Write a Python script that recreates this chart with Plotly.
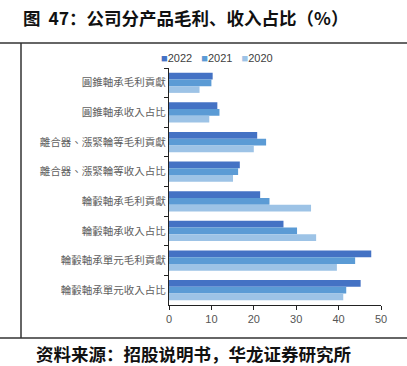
import plotly.graph_objects as go

categories = [
    "圓錐軸承毛利貢獻",
    "圓錐軸承收入占比",
    "離合器、漲緊輪等毛利貢獻",
    "離合器、漲緊輪等收入占比",
    "輪轂軸承毛利貢獻",
    "輪轂軸承收入占比",
    "輪轂軸承單元毛利貢獻",
    "輪轂軸承單元收入占比",
]
years = ["2022", "2021", "2020"]
v2022 = [10.3, 11.4, 20.8, 16.7, 21.5, 27.0, 47.7, 45.2]
v2021 = [10.0, 11.9, 22.9, 16.3, 23.7, 30.2, 43.9, 41.8]
v2020 = [7.2, 9.5, 20.0, 15.1, 33.5, 34.7, 39.6, 41.1]
x_ticks = [0, 10, 20, 30, 40, 50]

colors = ["#4472C4", "#5B9BD5", "#9DC3E6"]
series = [v2022, v2021, v2020]

W, H = 407, 366
L, R, T, B = 169, 26, 68, 61
pw, ph = W - L - R, H - T - B

def px(x):
    return (x - L) / pw

def py(y):
    return (H - B - y) / ph

fig = go.Figure()
for name, vals, c in zip(years, series, colors):
    fig.add_trace(go.Bar(
        y=categories, x=vals, name=name, orientation="h",
        marker=dict(color=c, line=dict(width=0)),
    ))

fig.update_layout(
    width=W, height=H,
    margin=dict(l=L, r=R, t=T, b=B),
    paper_bgcolor="white", plot_bgcolor="white",
    barmode="group", bargap=0.32, bargroupgap=0.0,
    showlegend=False,
    font=dict(family="Noto Sans CJK TC, Noto Sans CJK SC, sans-serif", color="#404040"),
)
fig.update_xaxes(
    range=[0, 50], tickvals=x_ticks, ticktext=[str(t) for t in x_ticks],
    showgrid=False, zeroline=False,
    showline=True, linecolor="#222", linewidth=1.2,
    ticks="outside", ticklen=4, tickcolor="#222",
    tickfont=dict(size=11, color="#555", family="Liberation Sans, Arial, sans-serif"),
)
fig.update_yaxes(
    autorange="reversed", type="category",
    showgrid=False, showline=True, linecolor="#222", linewidth=1.2,
    ticks="outside", ticklen=4, tickcolor="#222", tickson="boundaries",
    tickfont=dict(size=10.5, color="#606060"),
)

# legend (manual)
leg = "   ".join(
    f"<span style='color:{c}'>■</span>{y}" for y, c in zip(years, colors)
)
annotations = [
    dict(xref="paper", yref="paper", x=px(159), y=py(58), xanchor="left", yanchor="middle",
         text=leg, showarrow=False,
         font=dict(size=11, color="#404040", family="Liberation Sans, Arial, sans-serif")),
    dict(xref="paper", yref="paper", x=px(21), y=py(18), xanchor="left", yanchor="middle",
         text="<b>图  47：公司分产品毛利、收入占比（%）</b>", showarrow=False,
         font=dict(size=17.5, color="#111", family="Noto Sans CJK SC")),
    dict(xref="paper", yref="paper", x=px(34), y=py(353), xanchor="left", yanchor="middle",
         text="<b>资料来源：招股说明书，华龙证券研究所</b>", showarrow=False,
         font=dict(size=17.5, color="#111", family="Noto Sans CJK SC")),
]
fig.update_layout(annotations=annotations)

shapes = [
    dict(type="line", xref="paper", yref="paper", x0=px(0), x1=px(W), y0=py(43), y1=py(43),
         line=dict(color="#333", width=1.5)),
    dict(type="line", xref="paper", yref="paper", x0=px(0), x1=px(W), y0=py(338), y1=py(338),
         line=dict(color="#333", width=1.5)),
    dict(type="line", xref="paper", yref="paper", x0=px(21), x1=px(21), y0=py(43), y1=py(338),
         line=dict(color="#333", width=1.5)),
]
fig.update_layout(shapes=shapes)

fig.write_html("out.html", config={"displayModeBar": False},
               post_script="document.body.style.margin='0';")
